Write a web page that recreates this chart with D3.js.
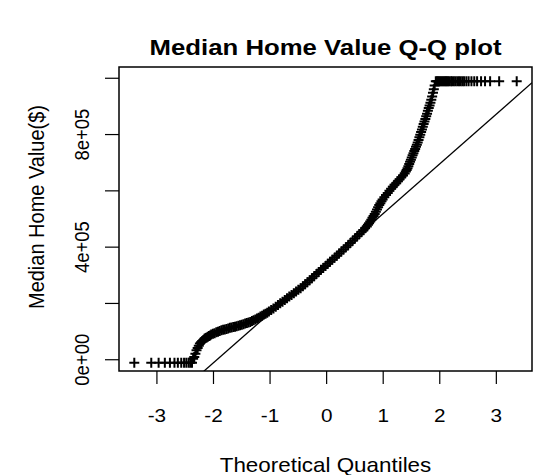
<!DOCTYPE html>
<html>
<head>
<meta charset="utf-8">
<script src="https://cdn.jsdelivr.net/npm/d3@7"></script>
<style>
  body { margin: 0; background: #fff; }
  svg { display: block; font-family: 'Liberation Sans', Arial, Helvetica, sans-serif; }
</style>
</head>
<body>
<svg width="533" height="475"></svg>
<script>
// Q-Q points: [theoretical quantile, median home value in $1000]
// flat bottom (lowest values)
const lowerTail = [
  [-3.40, 0], [-3.10, 0], [-2.97, 0], [-2.86, 0], [-2.77, 0], [-2.69, 0], [-2.63, 0],
  [-2.57, 0], [-2.52, 0], [-2.48, 0], [-2.44, 0], [-2.41, 0], [-2.38, 0]
];
// rise and shoulder on the left
const lowerBend = [
  [-2.36, 14], [-2.34, 20], [-2.32, 32], [-2.30, 44], [-2.28, 52], [-2.26, 60], [-2.24, 68],
  [-2.22, 73], [-2.20, 77], [-2.18, 81], [-2.16, 85], [-2.14, 88], [-2.12, 90], [-2.10, 92],
  [-2.08, 95], [-2.06, 97], [-2.04, 100], [-2.01, 103], [-1.98, 105], [-1.95, 108], [-1.92, 110],
  [-1.89, 113], [-1.86, 115], [-1.83, 117], [-1.80, 118], [-1.77, 120], [-1.74, 122], [-1.71, 124],
  [-1.68, 125], [-1.65, 127], [-1.62, 128], [-1.59, 130], [-1.56, 131], [-1.53, 133], [-1.50, 135],
  [-1.47, 137], [-1.44, 139], [-1.41, 141], [-1.38, 143], [-1.35, 145], [-1.32, 148], [-1.29, 151],
  [-1.26, 154], [-1.23, 157], [-1.20, 160], [-1.17, 164], [-1.14, 167], [-1.11, 171], [-1.08, 174],
  [-1.05, 178], [-1.02, 182]
];
// body of the distribution
const middle = [
  [-0.98, 187], [-0.94, 193], [-0.90, 199], [-0.86, 205], [-0.82, 211], [-0.78, 217], [-0.74, 223],
  [-0.70, 229], [-0.66, 235], [-0.62, 241], [-0.58, 247], [-0.54, 253], [-0.50, 259], [-0.46, 265],
  [-0.42, 272], [-0.38, 279], [-0.34, 286], [-0.30, 293], [-0.26, 300], [-0.22, 307], [-0.18, 315],
  [-0.14, 322], [-0.10, 330], [-0.06, 337], [-0.02, 344], [0.02, 352], [0.06, 359], [0.10, 366],
  [0.14, 373], [0.18, 380], [0.22, 388], [0.26, 395], [0.30, 402], [0.34, 410], [0.38, 417],
  [0.42, 425], [0.46, 433], [0.50, 441], [0.54, 449], [0.58, 457], [0.62, 465], [0.65, 471],
  [0.68, 478], [0.71, 484], [0.73, 490], [0.75, 496], [0.77, 502], [0.79, 508], [0.81, 515],
  [0.83, 521], [0.85, 528], [0.87, 536], [0.89, 544], [0.91, 552], [0.93, 560], [0.95, 567],
  [0.97, 574], [0.99, 580], [1.02, 588], [1.05, 596], [1.08, 603], [1.11, 611], [1.14, 618],
  [1.17, 625], [1.20, 632], [1.23, 638], [1.26, 645], [1.29, 652], [1.32, 659], [1.35, 665],
  [1.38, 672]
];
// steep climb on the right
const upperBend = [
  [1.400, 679], [1.415, 685], [1.430, 691], [1.445, 698], [1.460, 706], [1.475, 714], [1.490, 721],
  [1.505, 729], [1.520, 737], [1.535, 744], [1.550, 752], [1.565, 759], [1.580, 767], [1.595, 774],
  [1.610, 782], [1.625, 791], [1.640, 801], [1.655, 810], [1.670, 820], [1.685, 829], [1.700, 838],
  [1.715, 848], [1.730, 857], [1.745, 866], [1.760, 876], [1.775, 885], [1.790, 895], [1.805, 905],
  [1.820, 914], [1.835, 924], [1.850, 934], [1.865, 946], [1.880, 959], [1.895, 972], [1.910, 985]
];
// flat top (capped values)
const upperTail = [
  [1.93, 1000], [1.95, 1000], [1.97, 1000], [1.99, 1000], [2.01, 1000], [2.03, 1000], [2.05, 1000],
  [2.07, 1000], [2.09, 1000], [2.11, 1000], [2.13, 1000], [2.15, 1000], [2.17, 1000], [2.20, 1000],
  [2.22, 1000], [2.25, 1000], [2.28, 1000], [2.31, 1000], [2.34, 1000], [2.37, 1000], [2.40, 1000],
  [2.43, 1000], [2.47, 1000], [2.51, 1000], [2.56, 1000], [2.61, 1000], [2.66, 1000], [2.73, 1000],
  [2.80, 1000], [2.89, 1000], [3.05, 1000], [3.36, 1000]
];

// reference line (qqline), value in $1000
const lineIntercept = 342.8;
const lineSlope = 176.7;

const xTicks = [-3, -2, -1, 0, 1, 2, 3];
const yTicks = [0, 200, 400, 600, 800, 1000];
const yTickLabels = ['0e+00', '', '4e+05', '', '8e+05', ''];

const titleText = 'Median Home Value Q-Q plot';
const xLabel = 'Theoretical Quantiles';
const yLabel = 'Median Home Value($)';

// plot box and text stretch (picture is a bit wider than tall)
const box = { left: 119, right: 532, top: 67, bottom: 371 };
const SX = 1.12;

const points = lowerTail.concat(lowerBend, middle, upperBend, upperTail);

// R style: data range plus 4% on each side
function pad(ext) {
  const r = ext[1] - ext[0];
  return [ext[0] - 0.04 * r, ext[1] + 0.04 * r];
}

const x = d3.scaleLinear()
  .domain(pad(d3.extent(points, d => d[0])))
  .range([box.left, box.right]);
const y = d3.scaleLinear()
  .domain(pad(d3.extent(points, d => d[1])))
  .range([box.bottom, box.top]);

const svg = d3.select('svg');

svg.append('clipPath').attr('id', 'plotClip')
  .append('rect')
  .attr('x', box.left).attr('y', box.top)
  .attr('width', box.right - box.left).attr('height', box.bottom - box.top);

// text helper, stretched horizontally like the picture
function label(str, px, py, size, opts) {
  opts = opts || {};
  return svg.append('text')
    .attr('transform', 'translate(' + px + ',' + py + ') scale(' + SX + ',1)' + (opts.rotate ? ' rotate(-90)' : ''))
    .attr('text-anchor', 'middle')
    .attr('font-size', size)
    .attr('font-weight', opts.bold ? 'bold' : 'normal')
    .attr('fill', '#000')
    .text(str);
}

// points drawn as "+" (pch = 3)
svg.append('g')
  .attr('class', 'points')
  .selectAll('path')
  .data(points)
  .enter()
  .append('path')
  .attr('transform', d => 'translate(' + x(d[0]) + ',' + (y(d[1]) + 3) + ')')
  .attr('d', 'M-5,0H5M0,-5V5')
  .attr('stroke', '#000')
  .attr('stroke-width', 2)
  .attr('fill', 'none');

// qqline
const xd = x.domain();
svg.append('line')
  .attr('clip-path', 'url(#plotClip)')
  .attr('x1', x(xd[0])).attr('y1', y(lineIntercept + lineSlope * xd[0]))
  .attr('x2', x(xd[1])).attr('y2', y(lineIntercept + lineSlope * xd[1]))
  .attr('stroke', '#000')
  .attr('stroke-width', 1.3);

// box
svg.append('rect')
  .attr('x', box.left).attr('y', box.top)
  .attr('width', box.right - box.left).attr('height', box.bottom - box.top)
  .attr('fill', 'none')
  .attr('stroke', '#000')
  .attr('stroke-width', 1.5);

// x axis ticks and labels
svg.append('g').selectAll('line')
  .data(xTicks).enter().append('line')
  .attr('x1', d => x(d)).attr('x2', d => x(d))
  .attr('y1', box.bottom).attr('y2', box.bottom + 13)
  .attr('stroke', '#000').attr('stroke-width', 1.2);
xTicks.forEach(d => label(String(d), x(d), 422, 18.5));

// y axis ticks and labels
svg.append('g').selectAll('line')
  .data(yTicks).enter().append('line')
  .attr('y1', d => y(d)).attr('y2', d => y(d))
  .attr('x1', box.left).attr('x2', box.left - 14)
  .attr('stroke', '#000').attr('stroke-width', 1.2);
yTicks.forEach((d, i) => {
  if (yTickLabels[i]) label(yTickLabels[i], 89, y(d), 18.5, { rotate: true });
});

// titles
label(titleText, (box.left + box.right) / 2, 55, 23, { bold: true });
label(xLabel, (box.left + box.right) / 2, 471.5, 20);
label(yLabel, 44, 207, 20, { rotate: true });
</script>
</body>
</html>
